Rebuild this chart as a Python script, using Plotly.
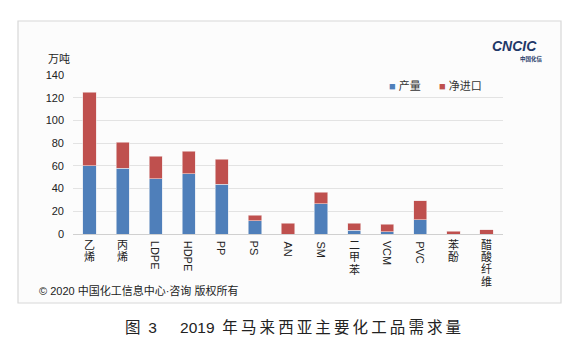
import plotly.graph_objects as go

categories = ["乙烯", "丙烯", "LDPE", "HDPE", "PP", "PS", "AN", "SM", "二甲苯", "VCM", "PVC", "苯酚", "醋酸纤维"]
production = [60, 58, 48.5, 53, 44, 11.5, 0, 26.5, 3.5, 2, 12.5, 0, 0]
net_import = [65, 23, 20, 20, 21.7, 5, 9.5, 10.3, 6, 6.5, 17, 2.6, 3.8]
y_ticks = [0, 20, 40, 60, 80, 100, 120, 140]
series_names = ["产量", "净进口"]
series_colors = ["#4f7fba", "#bf504e"]

W, H = 576, 351
L, R, T, B = 73, 503, 75, 234
FONT = "Liberation Sans, Arial, Noto Sans CJK SC, sans-serif"

def px(x):
    return (x - L) / (R - L)

def py(y):
    return (B - y) / (B - T)

fig = go.Figure()
fig.add_trace(go.Bar(x=categories, y=production, name=series_names[0],
                     marker=dict(color=series_colors[0], line=dict(color="#dfe6f0", width=0.6))))
fig.add_trace(go.Bar(x=categories, y=net_import, name=series_names[1],
                     marker=dict(color=series_colors[1], line=dict(color="#f0dcdc", width=0.6))))

shapes = [dict(type="rect", xref="paper", yref="paper", layer="below",
               x0=px(18), x1=px(561), y0=py(303), y1=py(21),
               fillcolor="#fcfcfc", line=dict(color="#d8d8d8", width=1.2))]

annotations = []
# category labels
for c in categories:
    if all(ord(ch) > 127 for ch in c):
        for i, ch in enumerate(c):
            annotations.append(dict(x=c, xref="x", yref="paper", y=py(244.5 + i * 12.4),
                                    text=ch, showarrow=False, xanchor="center", yanchor="middle",
                                    font=dict(size=11, color="#222", family=FONT)))
    else:
        annotations.append(dict(x=c, xref="x", yref="paper", y=py(239), text=c, textangle=90,
                                showarrow=False, xanchor="center", yanchor="top",
                                font=dict(size=11, color="#222", family=FONT)))

# legend (manual, compact like reference)
for name, color, x0 in zip(series_names, series_colors, [387, 437]):
    annotations.append(dict(xref="paper", yref="paper", x=px(x0), y=py(85),
                            text=f"<span style='color:{color}'>■</span> {name}", showarrow=False,
                            xanchor="left", yanchor="middle",
                            font=dict(size=11, color="#333", family=FONT)))

caption = ("图\u20023\u2003\u2002" + "2019\u2002" + "\u2009".join("年马来西亚主要化工品需求量"))

annotations += [
    dict(xref="paper", yref="paper", x=px(46), y=py(59), text="万吨", showarrow=False,
         xanchor="left", yanchor="middle", font=dict(size=11, color="#222", family=FONT)),
    dict(xref="paper", yref="paper", x=px(37), y=py(290), text="© 2020 中国化工信息中心·咨询 版权所有",
         showarrow=False, xanchor="left", yanchor="middle", font=dict(size=11, color="#222", family=FONT)),
    dict(xref="paper", yref="paper", x=px(123), y=py(327), text=caption, showarrow=False,
         xanchor="left", yanchor="middle", font=dict(size=15.5, color="#222", family=FONT)),
    dict(xref="paper", yref="paper", x=px(514), y=py(46), text="<b><i>CNCIC</i></b>", showarrow=False,
         xanchor="center", yanchor="middle", font=dict(size=14, color="#1e3868", family=FONT)),
    dict(xref="paper", yref="paper", x=px(531), y=py(59.5), text="<b>中国化信</b>", showarrow=False,
         xanchor="center", yanchor="middle", font=dict(size=5.5, color="#1e3868", family=FONT)),
]

fig.update_layout(
    width=W, height=H, barmode="stack", bargap=0.6,
    margin=dict(l=L, r=W - R, t=T, b=H - B),
    paper_bgcolor="white", plot_bgcolor="rgba(0,0,0,0)",
    font=dict(family=FONT, size=11, color="#222"),
    showlegend=False,
    shapes=shapes, annotations=annotations,
)
fig.update_xaxes(showticklabels=False, showgrid=False, showline=True, linecolor="#d0d0d0",
                 linewidth=1, ticks="", range=[-0.5, len(categories) - 0.5])
fig.update_yaxes(range=[0, 140], tickvals=y_ticks, ticktext=[str(v) for v in y_ticks],
                 showgrid=True, gridcolor="#e3e3e3", gridwidth=1, zeroline=False,
                 ticks="", tickfont=dict(size=11, color="#222"), ticklabelstandoff=8)

fig.write_html("out.html")
